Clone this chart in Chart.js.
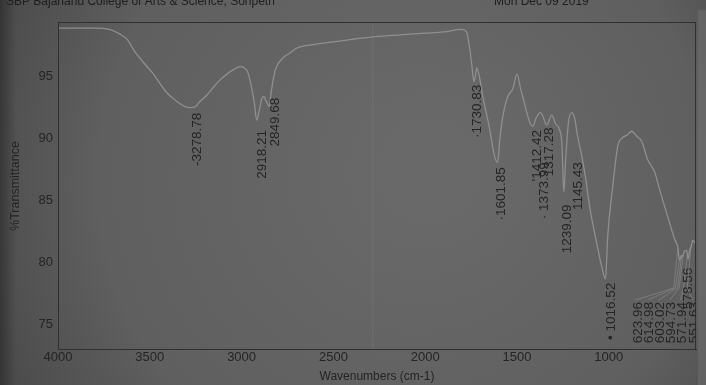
<!DOCTYPE html>
<html><head><meta charset="utf-8">
<script src="https://cdn.jsdelivr.net/npm/chart.js@4"></script>
<style>html,body{margin:0;padding:0;background:#595959;}#wrap{width:706px;height:385px;position:relative}</style>
</head><body><div id="wrap"><canvas id="c" width="706" height="385"></canvas></div>
<script>
// ---- data ----
const wavenumbers = [4000,3900,3800,3720,3660,3624,3581,3526,3480,3461,3407,3352,3310,3280,3250,3227,3190,3156,3120,3080,3040,3010,2985,2965,2944,2930,2918,2905,2890,2880,2865,2850,2840,2830,2815,2775,2737,2700,2600,2500,2400,2285,2200,2100,2000,1900,1800,1775,1760,1745,1735,1725,1719,1705,1686,1648,1621,1605,1594,1577,1550,1523,1500,1480,1469,1450,1430,1414,1395,1370,1338,1311,1290,1270,1255,1245,1236,1220,1202,1185,1170,1147,1126,1104,1066,1040,1018,1006,979,951,924,900,875,848,821,788,750,723,679,641,625,614,605,598,590,576,568,560,550,543,530];
const transmittance = [98.9,98.9,98.9,98.8,98.4,98.0,97.0,96.0,95.2,94.8,93.7,93.0,92.6,92.5,92.6,93.0,93.5,94.1,94.7,95.2,95.6,95.8,95.7,95.3,94.0,92.8,91.5,92.2,93.2,93.4,93.0,92.6,93.6,94.6,95.6,96.5,96.9,97.3,97.6,97.8,98.0,98.2,98.3,98.4,98.5,98.6,98.8,98.6,97.5,95.8,94.6,95.2,95.7,95.0,93.4,90.7,88.5,88.1,89.9,91.8,93.4,94.0,95.2,94.0,93.4,92.3,91.3,91.0,91.7,92.1,91.1,91.9,91.2,90.8,89.5,85.7,88.0,91.3,92.1,91.6,90.2,88.6,86.8,84.5,81.6,79.8,78.7,82.1,86.1,89.4,90.1,90.3,90.6,90.2,89.8,88.3,87.3,85.9,83.7,81.9,81.3,80.2,80.6,80.5,80.9,81.0,80.3,81.0,81.4,81.8,81.6];

const peakLabels = ["3278.78","2918.21","2849.68","1730.83","1601.85","1412.42","1373.99","1317.28","1239.09","1145.43","1016.52","623.96","614.98","603.02","594.73","571.94","578.56","551.63"];
const peakWavenumbers = [3278.78,2918.21,2849.68,1730.83,1601.85,1412.42,1373.99,1317.28,1239.09,1145.43,1016.52,623.96,614.98,603.02,594.73,571.94,578.56,551.63];

const xTicks = [4000,3500,3000,2500,2000,1500,1000];
const yTicks = [75,80,85,90,95];
const creaseWavenumbers = [2285,2285];
const creaseValues = [73.06,99.4];

// ---- label placement (layout, in axis units) ----
const labelLayout = {
  anchorWn: [3243,2889,2819,1719,1583,1392,1349,1322,1224,1164,984,842,777,717,657,597,565,532],
  anchorT:  [92.1,90.7,93.3,94.35,87.7,90.7,88.1,90.9,84.7,88.1,78.4,76.85,76.85,76.85,76.85,76.85,79.6,76.85],
  prefix:   ["-","","","\u00b7","\u00b7","'","\u00b7 ","","","","\u2022 ","","","","","","",""],
  leader:   [false,false,false,false,false,false,false,false,false,false,false,true,true,true,true,true,false,true]
};

function interpT(wn){
  for(let i=0;i<wavenumbers.length-1;i++){
    const a=wavenumbers[i], b=wavenumbers[i+1];
    if(wn<=a && wn>=b){ const t=(a-wn)/(a-b); return transmittance[i]+t*(transmittance[i+1]-transmittance[i]); }
  }
  return transmittance[transmittance.length-1];
}

const bgPlugin = {
  id:'bg',
  beforeDraw(chart){
    const {ctx,width,height}=chart;
    ctx.save();
    const g=ctx.createRadialGradient(430,170,40,380,190,520);
    g.addColorStop(0,'#696969');
    g.addColorStop(0.55,'#5f5f5f');
    g.addColorStop(1,'#3c3c3c');
    ctx.fillStyle=g; ctx.fillRect(0,0,width,height);
    const g2=ctx.createLinearGradient(0,0,16,0);
    g2.addColorStop(0,'rgba(30,30,30,0.5)'); g2.addColorStop(1,'rgba(30,30,30,0)');
    ctx.fillStyle=g2; ctx.fillRect(0,0,16,height);
    ctx.fillStyle='rgba(130,130,130,0.3)'; ctx.fillRect(698,10,8,height-10);
    ctx.fillStyle='#1e1e1e';
    ctx.font='12px "Liberation Sans", Arial, sans-serif';
    ctx.textBaseline='alphabetic'; ctx.textAlign='left';
    ctx.fillText('SBP Bajanand College of Arts & Science, Sonpeth',6,5);
    ctx.fillText('Mon Dec 09 2019',494,5);
    ctx.restore();
  }
};

const framePlugin = {
  id:'frame',
  afterDatasetsDraw(chart){
    const {ctx,chartArea:a,scales:{x,y}}=chart;
    ctx.save();
    ctx.strokeStyle='#303030'; ctx.lineWidth=1;
    ctx.strokeRect(a.left+0.5,a.top+0.5,a.right-a.left-1,a.bottom-a.top);
    ctx.beginPath(); ctx.rect(a.left,a.top,a.right-a.left,a.bottom-a.top-6); ctx.clip();
    ctx.font='13.5px "Liberation Sans", Arial, sans-serif';
    ctx.fillStyle='#242424';
    for(let i=0;i<peakLabels.length;i++){
      const px=x.getPixelForValue(labelLayout.anchorWn[i]);
      const py=y.getPixelForValue(labelLayout.anchorT[i]);
      if(labelLayout.leader[i]){
        const qx=x.getPixelForValue(peakWavenumbers[i]);
        const qy=y.getPixelForValue(interpT(peakWavenumbers[i]));
        ctx.save();
        ctx.strokeStyle='rgba(140,140,140,0.8)'; ctx.lineWidth=0.8;
        ctx.beginPath(); ctx.moveTo(px-2,py-2); ctx.lineTo(qx-4,py-14); ctx.lineTo(qx,qy); ctx.stroke();
        ctx.restore();
      }
      ctx.save();
      ctx.translate(px,py); ctx.rotate(-Math.PI/2);
      ctx.textAlign='right'; ctx.textBaseline='middle';
      ctx.fillText(labelLayout.prefix[i]+peakLabels[i],0,0);
      ctx.restore();
    }
    ctx.restore();
    ctx.save();
    ctx.fillStyle='#242424';
    ctx.font='12px "Liberation Sans", Arial, sans-serif';
    ctx.textAlign='center'; ctx.textBaseline='middle';
    ctx.fillText('Wavenumbers (cm-1)',(a.left+a.right)/2,377);
    ctx.font='12.5px "Liberation Sans", Arial, sans-serif';
    ctx.translate(16,186); ctx.rotate(-Math.PI/2);
    ctx.fillText('%Transmittance',0,0);
    ctx.restore();
  }
};

const spectrum = wavenumbers.map((w,i)=>({x:w,y:transmittance[i]}));
const crease = creaseWavenumbers.map((w,i)=>({x:w,y:creaseValues[i]}));

new Chart(document.getElementById('c'),{
  type:'scatter',
  data:{datasets:[
    {data:crease,showLine:true,borderColor:'rgba(125,125,125,0.5)',borderWidth:1,pointRadius:0},
    {data:spectrum,showLine:true,borderColor:'#8f8f8f',borderWidth:1.3,pointRadius:0,cubicInterpolationMode:'monotone'}
  ]},
  options:{
    responsive:false,animation:false,devicePixelRatio:1,
    layout:{padding:{top:22,right:10,left:0,bottom:0}},
    plugins:{legend:{display:false},tooltip:{enabled:false}},
    scales:{
      x:{type:'linear',reverse:true,min:525,max:4000,
        afterBuildTicks(s){s.ticks=xTicks.map(v=>({value:v}));},
        afterFit(s){s.height=36;},
        grid:{display:false,drawTicks:false},border:{display:true,color:'#303030'},
        ticks:{padding:1,color:'#242424',font:{family:'"Liberation Sans", Arial, sans-serif',size:13},maxRotation:0,callback:v=>String(v)}},
      y:{type:'linear',min:73.06,max:99.4,
        afterBuildTicks(s){s.ticks=yTicks.map(v=>({value:v}));},
        afterFit(s){s.width=58;},
        grid:{display:false,drawTicks:false},border:{display:true,color:'#303030'},
        ticks:{padding:5,color:'#242424',font:{family:'"Liberation Sans", Arial, sans-serif',size:13},callback:v=>String(v)}}
    }
  },
  plugins:[bgPlugin,framePlugin]
});
</script></body></html>
